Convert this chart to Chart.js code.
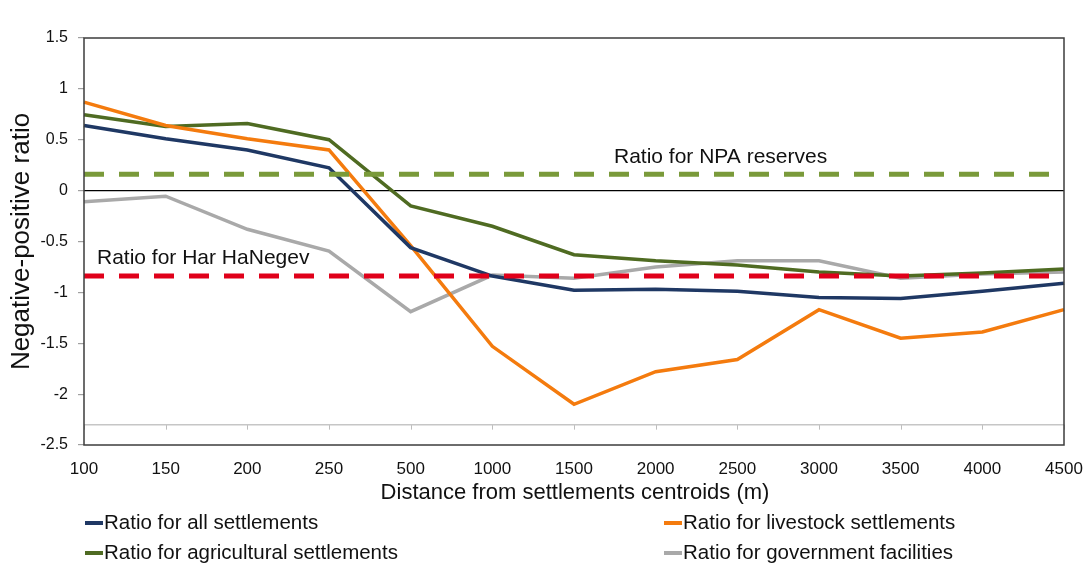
<!DOCTYPE html>
<html>
<head>
<meta charset="utf-8">
<script src="https://cdn.jsdelivr.net/npm/chart.js@4/dist/chart.umd.min.js"></script>
<style>
  html, body { margin: 0; padding: 0; background: #fff; }
  #wrap { width: 1089px; height: 567px; position: relative; }
</style>
</head>
<body>
<div id="wrap"><canvas id="chart" width="1089" height="567"></canvas></div>
<script>
// Distance bands (m) from settlement centroids
const distances = ['100', '150', '200', '250', '500', '1000', '1500', '2000', '2500', '3000', '3500', '4000', '4500'];

// Negative-positive ratio per settlement type
const allSettlements          = [0.64, 0.51, 0.40, 0.225, -0.56, -0.84, -0.98, -0.97, -0.99, -1.05, -1.06, -0.99, -0.91];
const livestockSettlements    = [0.87, 0.64, 0.51, 0.40, -0.54, -1.53, -2.10, -1.78, -1.66, -1.17, -1.45, -1.39, -1.17];
const agriculturalSettlements = [0.745, 0.63, 0.66, 0.50, -0.15, -0.35, -0.63, -0.69, -0.73, -0.80, -0.84, -0.81, -0.77];
const governmentFacilities    = [-0.11, -0.055, -0.38, -0.595, -1.19, -0.83, -0.86, -0.75, -0.69, -0.69, -0.86, -0.82, -0.80];

// Reference ratios
const npaReservesRatio = 0.16;
const harHaNegevRatio = -0.84;
const baselineValue = -2.3;

// Value axis ticks
const yTicks = [1.5, 1, 0.5, 0, -0.5, -1, -1.5, -2, -2.5];

const FONT = '"Liberation Sans", Arial, sans-serif';
const flat = v => distances.map(() => v);

const seriesStyle = (label, data, color, order) => ({
  label, data, borderColor: color, backgroundColor: color,
  borderWidth: 3.5, pointRadius: 0, tension: 0, fill: false, order,
  inLegend: true
});

const datasets = [
  {
    label: 'Ratio for NPA reserves', data: flat(npaReservesRatio),
    borderColor: '#7A9A3A', borderWidth: 5, borderDash: [20, 15],
    pointRadius: 0, fill: false, order: 0
  },
  {
    label: 'Ratio for Har HaNegev', data: flat(harHaNegevRatio),
    borderColor: '#E0001A', borderWidth: 5, borderDash: [20, 15],
    pointRadius: 0, fill: false, order: 0
  },
  seriesStyle('Ratio for all settlements', allSettlements, '#1F3864', 1),
  seriesStyle('Ratio for livestock settlements', livestockSettlements, '#F47B0E', 2),
  seriesStyle('Ratio for agricultural settlements', agriculturalSettlements, '#4F6B22', 3),
  seriesStyle('Ratio for government facilities', governmentFacilities, '#A9A9A9', 4),
  {
    label: 'baseline', data: flat(baselineValue),
    borderColor: '#C6C6C6', borderWidth: 1.5, pointRadius: 0, fill: false, order: 9
  }
];

// Legend grid: two columns, two rows
const legendSlots = [
  { col: 0, row: 0 }, { col: 1, row: 0 }, { col: 0, row: 1 }, { col: 1, row: 1 }
];
const legendCols = [85, 664];
const legendRows = [523, 553];

const decorPlugin = {
  id: 'decor',
  beforeDatasetsDraw(chart) {
    const { ctx } = chart;
    const xs = chart.scales.x, ys = chart.scales.y;
    // small ticks hanging from the baseline
    const yb = ys.getPixelForValue(baselineValue);
    ctx.save();
    ctx.strokeStyle = '#BDBDBD';
    ctx.lineWidth = 1;
    distances.forEach((d, i) => {
      const px = Math.round(xs.getPixelForValue(i)) + 0.5;
      ctx.beginPath();
      ctx.moveTo(px, yb);
      ctx.lineTo(px, yb + 5);
      ctx.stroke();
    });
    ctx.restore();
  },
  afterDraw(chart) {
    const { ctx, chartArea } = chart;
    const ys = chart.scales.y;
    ctx.save();
    // plot frame
    ctx.strokeStyle = '#3C3C3C';
    ctx.lineWidth = 1.5;
    ctx.strokeRect(chartArea.left, chartArea.top, chartArea.right - chartArea.left, chartArea.bottom - chartArea.top);

    // reference line captions
    ctx.fillStyle = '#111';
    ctx.font = '21px ' + FONT;
    ctx.textAlign = 'left';
    ctx.textBaseline = 'alphabetic';
    ctx.fillText('Ratio for NPA reserves', 614, ys.getPixelForValue(npaReservesRatio) - 11);
    ctx.fillText('Ratio for Har HaNegev', chartArea.left + 13, ys.getPixelForValue(harHaNegevRatio) - 12);

    // x axis title
    ctx.font = '22px ' + FONT;
    ctx.textAlign = 'center';
    ctx.textBaseline = 'middle';
    ctx.fillText('Distance from settlements centroids (m)', 575, 493);

    // legend
    ctx.font = '20.5px ' + FONT;
    ctx.textAlign = 'left';
    const items = chart.data.datasets.filter(d => d.inLegend);
    items.forEach((d, i) => {
      const slot = legendSlots[i];
      const lx = legendCols[slot.col], ly = legendRows[slot.row];
      ctx.strokeStyle = d.borderColor;
      ctx.lineWidth = 4;
      ctx.beginPath();
      ctx.moveTo(lx, ly);
      ctx.lineTo(lx + 18, ly);
      ctx.stroke();
      ctx.fillStyle = '#111';
      ctx.fillText(d.label, lx + 19, ly);
    });
    ctx.restore();
  }
};

new Chart(document.getElementById('chart'), {
  type: 'line',
  data: { labels: distances, datasets },
  options: {
    responsive: false,
    devicePixelRatio: 1,
    animation: false,
    layout: { padding: { left: 0, right: 25, top: 38, bottom: 0 } },
    plugins: { legend: { display: false }, tooltip: { enabled: false } },
    scales: {
      x: {
        type: 'category',
        offset: false,
        grid: { display: false },
        border: { display: false },
        ticks: {
          color: '#111', font: { family: FONT, size: 17 },
          padding: 6, maxRotation: 0, autoSkip: false
        },
        afterFit: s => { s.height = 122; }
      },
      y: {
        min: -2.5, max: 1.5,
        afterBuildTicks: s => { s.ticks = yTicks.map(v => ({ value: v })); },
        grid: {
          color: c => (c.tick && c.tick.value === 0) ? '#000' : 'rgba(0,0,0,0)',
          lineWidth: 1.2,
          tickColor: '#A0A0A0',
          tickLength: 6,
          drawTicks: true
        },
        border: { display: false },
        ticks: {
          color: '#111', font: { family: FONT, size: 16 }, padding: 10,
          callback: v => String(v)
        },
        title: {
          display: true, text: 'Negative-positive ratio', color: '#111',
          font: { family: FONT, size: 26 }, padding: { top: 6, bottom: 0 }
        },
        afterFit: s => { s.width = 84; }
      }
    }
  },
  plugins: [decorPlugin]
});
</script>
</body>
</html>
